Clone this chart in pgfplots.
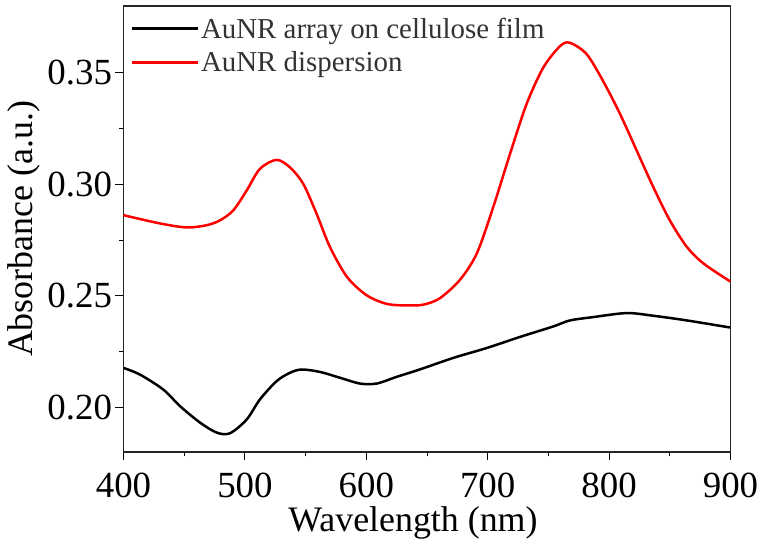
\documentclass[border=0pt]{standalone}
\usepackage{fontspec}
\setmainfont{Liberation Serif}
\usepackage{pgfplots}
\pgfplotsset{compat=1.18}
\usetikzlibrary{calc}
\definecolor{legtext}{HTML}{333333}
\begin{document}
\begin{tikzpicture}
\begin{axis}[
  width=607bp, height=446bp, scale only axis,
  xmin=400, xmax=900, ymin=0.18, ymax=0.38,
  xtick={400,500,600,700,800,900}, ytick={0.20,0.25,0.30,0.35},
  minor x tick num=1, minor y tick num=1,
  tick align=outside, tick pos=left,
  major tick length=8bp, minor tick length=4bp,
  every tick/.style={black, line width=1bp},
  axis line style={line width=1.3bp, black!85},
  /pgf/number format/assume math mode=true,
  y tick label style={/pgf/number format/fixed, /pgf/number format/fixed zerofill, /pgf/number format/precision=2},
  x tick label style={/pgf/number format/1000 sep={}, yshift=-9bp},
  tick label style={font=\fontsize{37}{40}\selectfont},
  label style={font=\fontsize{36}{40}\selectfont},
  xlabel={Wavelength (nm)}, ylabel={Absorbance (a.u.)},
  xlabel style={yshift=-2bp, xshift=-14bp},
  legend style={draw=none, fill=none, at={(0.008,0.983)}, anchor=north west, font=\fontsize{29}{32}\selectfont, text=legtext, legend cell align=left, inner xsep=2bp, inner ysep=2bp, row sep=8bp},
  legend image code/.code={\draw[#1, line width=2.5bp] (0bp,0bp) -- (66bp,0bp);},
]
\addplot[black, line width=2.5bp, smooth] coordinates {
(400,0.2177) (413.6,0.2147) (432.8,0.2080) (446.5,0.2006) (463,0.1932) (476.8,0.1887) (487.7,0.1884)
(501.5,0.1946) (512.4,0.2036) (526,0.2117) (537,0.2155) (546.8,0.2170) (561.9,0.2159) (578.3,0.2133)
(594.8,0.2107) (608.6,0.2107) (625,0.2137) (644,0.2170) (671.7,0.2222) (699,0.2266) (726.6,0.2316)
(754,0.2363) (767.8,0.2390) (787,0.2405) (814.5,0.2423) (836.4,0.2411) (864,0.2390) (900,0.2358)
};
\addlegendentry{AuNR array on cellulose film}
\addplot[red, line width=2.5bp, smooth] coordinates {
(400,0.2862) (430,0.2825) (452,0.2807) (468.5,0.2817) (479.5,0.2839) (490.5,0.2884) (501.5,0.2973)
(512.4,0.3070) (526,0.3110) (537,0.3077) (548,0.3003) (559,0.2869) (570,0.2720) (584,0.2586)
(600,0.2504) (617,0.2464) (636,0.2457) (648,0.2462) (660.7,0.2490) (677,0.2571) (691,0.2690)
(704.6,0.2899) (718.4,0.3137) (732,0.3360) (745.8,0.3524) (759.6,0.3620) (767.8,0.3635) (781.5,0.3584)
(795,0.3464) (809,0.3316) (822.7,0.3152) (836.4,0.2988) (850,0.2839) (864,0.2720) (877.6,0.2646) (900,0.2564)
};
\addlegendentry{AuNR dispersion}
\end{axis}
\pgfresetboundingbox
\path[use as bounding box] ($(current axis.south west)+(-123.5bp,-91bp)$) rectangle ($(current axis.north east)+(26.5bp,6bp)$);
\end{tikzpicture}
\end{document}
